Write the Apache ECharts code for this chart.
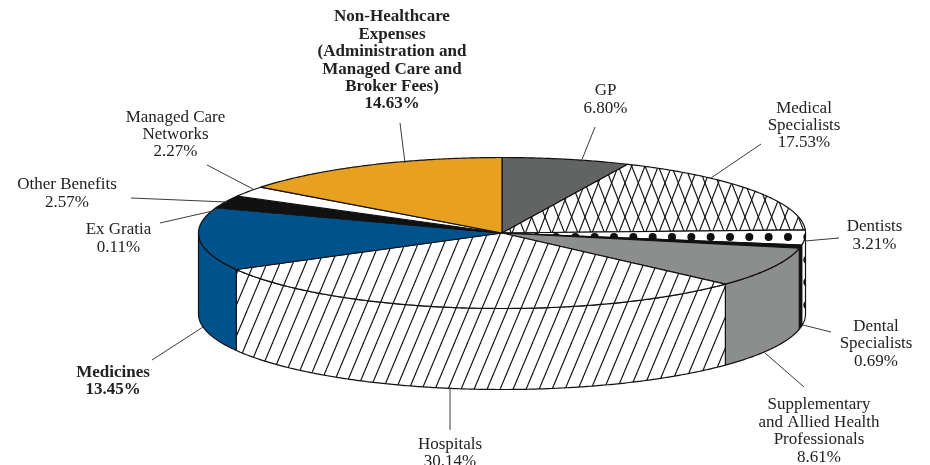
<!DOCTYPE html>
<html>
<head>
<meta charset="utf-8">
<style>html,body{margin:0;padding:0;background:#fff}#c{width:930px;height:465px}</style>
<script src="https://cdn.jsdelivr.net/npm/echarts@6/dist/echarts.min.js"></script>
</head>
<body>
<div id="c"></div>
<script>
// ---- data ----
const categories = ['GP','Medical\nSpecialists','Dentists','Dental\nSpecialists','Supplementary\nand Allied Health\nProfessionals','Hospitals','Medicines','Ex Gratia','Other Benefits','Managed Care\nNetworks','Non-Healthcare\nExpenses\n(Administration and\nManaged Care and\nBroker Fees)'];
const values = [6.80,17.53,3.21,0.69,8.61,30.14,13.45,0.11,2.57,2.27,14.63];
const boldLabels = [false,false,false,false,false,false,true,false,false,false,true];
// ---- styles ----
const fills = ['#626463','cross','dots','#111111','#8c8e8d','hatch','#00528c','#ffffff','#111111','#ffffff','#e8a020'];
// ---- layout ----
const CX=502, CY=233, RX=303.5, RY=75.5, DEPTH=81;
const labelCentres = [[605.5,99.5],[804,125.5],[874.5,235.5],[876,344],[819,431],[450,453],[113,381],[118.5,238.5],[67,193.5],[175.5,134.5],[392,60.5]];
const leaders = [[[595,127],[581,162]],[[761,144],[711,178]],[[839,238],[805,241]],[[831,332],[803,325]],[[804,387],[765,353]],[[450,430],[450,388]],[[152,360],[203,327]],[[160,223],[217,210]],[[131,198],[227,202]],[[207,165],[253,189]],[[400,123],[405,163]]];

function tile(w,h,draw){
  const c=document.createElement('canvas');c.width=w;c.height=h;
  const g=c.getContext('2d');g.fillStyle='#fff';g.fillRect(0,0,w,h);
  g.strokeStyle='#111';g.fillStyle='#111';g.lineWidth=1.15;draw(g);
  return {image:c,repeat:'repeat'};
}
function slant(g,sp,w,h,dir,ox,oy){
  for(let j=-2;j<2;j++)for(let i=-4;i<w/sp+5;i++){
    g.beginPath();
    if(dir>0){g.moveTo(i*sp+ox,(j+1)*h+oy);g.lineTo((i+1)*sp+ox,j*h+oy);}
    else{g.moveTo(i*sp+ox,j*h+oy);g.lineTo((i+1)*sp+ox,(j+1)*h+oy);}
    g.stroke();
  }
}
const patterns={
  hatch:tile(13,31,g=>slant(g,13,13,31,1,0.3,0)),
  cross:tile(40,34,g=>{slant(g,40/3,40,34,1,5,30);slant(g,40/3,40,34,-1,5,30);}),
  dots:tile(58,68,g=>{
    for(let i=-1;i<4;i++)for(let j=-1;j<4;j++){
      g.beginPath();g.arc(788%58+i*58/3,237%68+j*68/3,4,0,Math.PI*2);g.fill();
    }
  })
};
const fillOf=i=>patterns[fills[i]]||fills[i];

const total=values.reduce((a,b)=>a+b,0);
const cum=[0];values.forEach(v=>cum.push(cum[cum.length-1]+v));
const angle=v=>echarts.number.linearMap(v,[0,total],[0,360]);
const pt=(deg,dy)=>{const r=deg*Math.PI/180;return [CX+RX*Math.sin(r),CY-RY*Math.cos(r)+(dy||0)];};
function arc(a,b,dy){
  const out=[],n=Math.max(2,Math.ceil(Math.abs(b-a)*2));
  for(let k=0;k<=n;k++)out.push(pt(a+(b-a)*k/n,dy));
  return out;
}
const outline={stroke:'#111',lineWidth:1.2,lineJoin:'round'};

function renderWall(p){
  const i=p.dataIndex,a=Math.max(angle(cum[i]),90),b=Math.min(angle(cum[i+1]),270);
  if(b<=a)return {type:'group',children:[]};
  const pts=arc(a,b,0).concat(arc(b,a,DEPTH));
  return {type:'polygon',shape:{points:pts},style:Object.assign({fill:fillOf(i)},outline)};
}
function renderTop(p){
  const i=p.dataIndex;
  const pts=[[CX,CY]].concat(arc(angle(cum[i]),angle(cum[i+1]),0));
  return {type:'polygon',shape:{points:pts},style:Object.assign({fill:fillOf(i)},outline)};
}
function renderLabel(p){
  const i=p.dataIndex,l=leaders[i],c=labelCentres[i];
  return {type:'group',children:[
    {type:'line',shape:{x1:l[0][0],y1:l[0][1],x2:l[1][0],y2:l[1][1]},style:{stroke:'#3a3a3a',lineWidth:1,fill:null}},
    {type:'text',x:c[0],y:c[1],style:{
      text:categories[i]+'\n'+values[i].toFixed(2)+'%',
      fill:'#222',align:'center',verticalAlign:'middle',lineHeight:17.4,
      font:(boldLabels[i]?'bold ':'')+'17px "Liberation Serif"'
    }}
  ]};
}
const base=r=>({type:'custom',coordinateSystem:'none',renderItem:r,data:values,silent:true,animation:false,clip:false});
const chart=echarts.init(document.getElementById('c'),null,{renderer:'canvas'});
chart.setOption({animation:false,backgroundColor:'#fff',series:[base(renderWall),base(renderTop),base(renderLabel)]});
</script>
</body>
</html>
